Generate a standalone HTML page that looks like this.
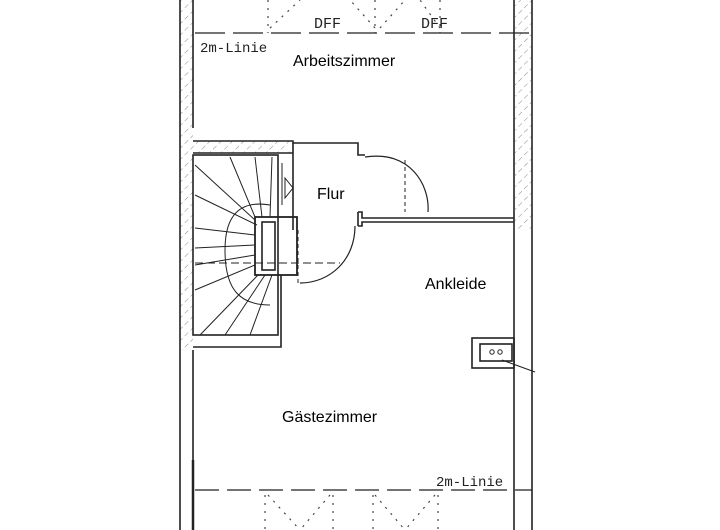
<!DOCTYPE html>
<html><head><meta charset="utf-8"><style>
html,body{margin:0;padding:0;background:#fff;}
svg{display:block}
.s{font-family:"Liberation Sans",sans-serif;}
.m{font-family:"Liberation Mono",monospace;}
</style></head><body>
<svg width="720" height="530" viewBox="0 0 720 530" xmlns="http://www.w3.org/2000/svg">
<defs>
<pattern id="h" width="8" height="8" patternUnits="userSpaceOnUse" patternTransform="rotate(45)">
<line x1="0" y1="0" x2="0" y2="8" stroke="#888" stroke-width="1" stroke-dasharray="3,3"/>
</pattern>
</defs>
<rect width="720" height="530" fill="#fff"/>
<g stroke="#222" stroke-width="1.6" fill="none">
<rect x="180" y="0" width="13" height="350" fill="url(#h)" stroke="none"/>
<line x1="180" y1="0" x2="180" y2="530"/>
<line x1="193" y1="0" x2="193" y2="128"/>
<line x1="193" y1="350" x2="193" y2="530"/>
<rect x="515" y="0" width="17" height="230" fill="url(#h)" stroke="none"/>
<line x1="514" y1="0" x2="514" y2="530"/>
<line x1="532" y1="0" x2="532" y2="530"/>
<rect x="193" y="141" width="100" height="12" fill="url(#h)" stroke="none"/>
<polyline points="193,141 293,141 293,143 358,143 358,155 365,155"/>
<polyline points="193,153 293,153"/>
<line x1="293" y1="143" x2="293" y2="230"/>
<rect x="193" y="155" width="85" height="180"/>
<polyline points="193,347 281,347 281,275"/>
<rect x="255" y="217" width="42" height="58" stroke-width="1.8"/>
<rect x="262" y="222" width="13" height="48"/>
<g stroke-width="1">
<path d="M270,205 C240,200 225,215 225,250 C225,290 240,305 270,305"/>
<line x1="255" y1="220" x2="195" y2="165"/>
<line x1="257" y1="225" x2="195" y2="195"/>
<line x1="255" y1="235" x2="195" y2="228"/>
<line x1="255" y1="245" x2="195" y2="248"/>
<line x1="255" y1="255" x2="195" y2="265"/>
<line x1="255" y1="265" x2="195" y2="290"/>
<line x1="258" y1="275" x2="200" y2="335"/>
<line x1="265" y1="275" x2="225" y2="335"/>
<line x1="272" y1="275" x2="250" y2="335"/>
<line x1="255" y1="217" x2="230" y2="157"/>
<line x1="262" y1="217" x2="255" y2="157"/>
<line x1="270" y1="217" x2="272" y2="157"/>
<line x1="195" y1="263" x2="340" y2="263" stroke-dasharray="8,4"/>
</g>
<path d="M365,157 C410,150 430,185 428,212" stroke-width="1.2"/>
<line x1="405" y1="160" x2="405" y2="212" stroke-width="1" stroke-dasharray="4,3"/>
<polyline points="358,212 362,212 362,218 514,218"/>
<polyline points="358,226 362,226 362,222 514,222"/>
<line x1="358" y1="212" x2="358" y2="226"/>
<path d="M355,226 C355,260 330,283 300,283" stroke-width="1.2"/>
<line x1="298" y1="230" x2="298" y2="283" stroke-width="1" stroke-dasharray="4,3"/>
<line x1="282" y1="163" x2="282" y2="205" stroke-width="1"/>
<polygon points="285,178 293,188 285,198" stroke-width="1"/>
<rect x="472" y="338" width="42" height="30"/>
<rect x="480" y="344" width="32" height="17"/>
<circle cx="492" cy="352" r="2.2" stroke-width="1"/>
<circle cx="500" cy="352" r="2.2" stroke-width="1"/>
<line x1="502" y1="360" x2="535" y2="372" stroke-width="1"/>
<line x1="195" y1="33" x2="532" y2="33" stroke-width="1.2" stroke-dasharray="30,8"/>
<line x1="195" y1="490" x2="532" y2="490" stroke-width="1.2" stroke-dasharray="24,8"/>
<g stroke-width="1.2" stroke-dasharray="2,6" stroke="#444">
<line x1="268" y1="0" x2="268" y2="33"/><line x1="375" y1="0" x2="375" y2="33"/><line x1="440" y1="0" x2="440" y2="33"/>
<line x1="265" y1="495" x2="265" y2="530"/><line x1="333" y1="495" x2="333" y2="530"/>
<line x1="373" y1="495" x2="373" y2="530"/><line x1="438" y1="495" x2="438" y2="530"/>
<line x1="268" y1="495" x2="300" y2="530"/><line x1="330" y1="495" x2="300" y2="530"/>
<line x1="375" y1="495" x2="405" y2="530"/><line x1="435" y1="495" x2="405" y2="530"/>
<line x1="270" y1="28" x2="300" y2="0"/><line x1="375" y1="28" x2="350" y2="0"/>
<line x1="380" y1="28" x2="405" y2="0"/><line x1="440" y1="28" x2="420" y2="0"/>
</g>
<line x1="193" y1="460" x2="193" y2="530" stroke-width="2.5"/>
</g>
<g fill="#222" class="m" font-size="14">
<text x="200" y="52" class="m">2m-Linie</text>
<text x="436" y="486" class="m">2m-Linie</text>
<text x="314" y="28" class="m" font-size="15">DFF</text>
<text x="421" y="28" class="m" font-size="15">DFF</text>
</g>
<g fill="#000" font-size="16" class="s">
<text x="293" y="66" class="s">Arbeitszimmer</text>
<text x="317" y="199" class="s">Flur</text>
<text x="425" y="289" class="s">Ankleide</text>
<text x="282" y="422" class="s">Gästezimmer</text>
</g>
</svg>
</body></html>
